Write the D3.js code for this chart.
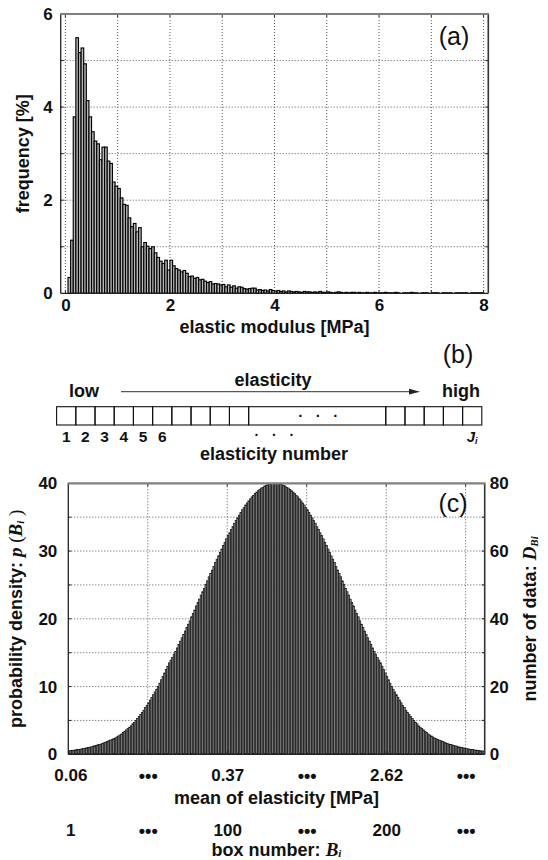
<!DOCTYPE html>
<html><head><meta charset="utf-8">
<script src="https://cdn.jsdelivr.net/npm/d3@7"></script>
<style>
html,body{margin:0;padding:0;background:#fff;}
svg{display:block;}
text{font-family:"Liberation Sans",Arial,Helvetica,sans-serif;fill:#111;}
</style></head><body>
<svg id="chart" width="548" height="860"></svg>
<script>
// ---------- DATA ----------
// (a) histogram of elastic modulus, bins of 0.05 MPa from 0 to 8
const histBinWidth = 0.05;
const histFrequency = [
 0.00,0.34,1.14,3.79,5.49,5.17,5.27,4.93,4.14,3.79,
 3.47,3.27,3.21,2.87,3.14,3.14,2.84,2.79,2.39,2.30,
 2.25,2.05,1.91,1.89,1.62,1.43,1.50,1.32,1.41,1.00,
 1.09,1.01,0.96,1.00,0.87,0.77,0.69,0.64,0.71,0.50,
 0.71,0.59,0.53,0.50,0.46,0.49,0.43,0.36,0.37,0.32,
 0.34,0.29,0.30,0.26,0.23,0.25,0.20,0.21,0.20,0.18,
 0.19,0.14,0.18,0.13,0.16,0.11,0.14,0.13,0.10,0.09,
 0.10,0.11,0.11,0.07,0.08,0.06,0.07,0.05,0.08,0.06,
 0.05,0.06,0.04,0.05,0.03,0.05,0.04,0.03,0.04,0.03,
 0.02,0.04,0.03,0.03,0.02,0.03,0.02,0.04,0.02,0.02,
 0.03,0.02,0.01,0.02,0.03,0.02,0.01,0.02,0.01,0.02,
 0.02,0.01,0.02,0.01,0.01,0.02,0.01,0.01,0.02,0.01,
 0.01,0.01,0.02,0.01,0.01,0.01,0.02,0.01,0.00,0.01,
 0.01,0.01,0.02,0.01,0.01,0.00,0.01,0.01,0.01,0.00,
 0.01,0.01,0.01,0.00,0.01,0.01,0.01,0.01,0.00,0.01,
 0.01,0.01,0.01,0.01,0.00,0.01,0.01,0.01,0.01,0.01
];
const histXTicks = [0, 2, 4, 6, 8];
const histYTicks = [0, 2, 4, 6];

// (b) elasticity boxes
const elasticityNumberLabels = ["1", "2", "3", "4", "5", "6"];

// (c) probability density per box (262 boxes)
const boxDensity = [
 0.5,0.55,0.6,0.6,0.65,0.7,0.7,0.75,0.8,0.85,
 0.9,0.95,1.0,1.05,1.1,1.2,1.25,1.3,1.4,1.45,
 1.5,1.6,1.7,1.8,1.9,2.0,2.1,2.2,2.3,2.4,
 2.55,2.7,2.85,3.0,3.2,3.4,3.6,3.8,4.0,4.2,
 4.5,4.7,5.0,5.3,5.6,5.9,6.2,6.5,6.9,7.2,
 7.6,8.0,8.4,8.8,9.2,9.6,10.0,10.5,11.0,11.5,
 12.0,12.5,13.0,13.5,13.9,14.3,14.8,15.2,15.7,16.2,
 16.7,17.2,17.7,18.2,18.7,19.2,19.7,20.3,20.8,21.3,
 21.9,22.4,22.9,23.5,24.0,24.5,25.1,25.6,26.2,26.7,
 27.2,27.7,28.3,28.8,29.3,29.8,30.3,30.8,31.3,31.8,
 32.3,32.7,33.2,33.6,34.1,34.5,34.9,35.3,35.7,36.1,
 36.4,36.8,37.1,37.4,37.7,38.0,38.2,38.5,38.7,38.9,
 39.1,39.3,39.4,39.6,39.7,39.8,39.9,39.9,40.0,40.0,
 40.0,40.0,39.9,39.9,39.8,39.7,39.6,39.4,39.3,39.1,
 38.9,38.7,38.5,38.2,38.0,37.7,37.4,37.1,36.8,36.4,
 36.1,35.7,35.3,34.9,34.5,34.1,33.6,33.2,32.7,32.3,
 31.8,31.3,30.8,30.3,29.8,29.3,28.8,28.3,27.7,27.2,
 26.7,26.2,25.6,25.1,24.5,24.0,23.5,22.9,22.4,21.9,
 21.3,20.8,20.3,19.7,19.2,18.7,18.2,17.7,17.2,16.7,
 16.2,15.7,15.2,14.8,14.3,13.9,13.5,13.0,12.5,12.0,
 11.5,11.0,10.5,10.0,9.6,9.2,8.8,8.4,8.0,7.6,
 7.2,6.9,6.5,6.2,5.9,5.6,5.3,5.0,4.7,4.5,
 4.2,4.0,3.8,3.6,3.4,3.2,3.0,2.85,2.7,2.55,
 2.4,2.3,2.2,2.1,2.0,1.9,1.8,1.7,1.6,1.5,
 1.45,1.4,1.3,1.25,1.2,1.1,1.05,1.0,0.95,0.9,
 0.85,0.8,0.75,0.7,0.7,0.65,0.6,0.6,0.55,0.5,
 0.5,0.45
];
const densityTicks = [0, 10, 20, 30, 40];
const countTicks = [0, 20, 40, 60, 80];
const boxTickPositions = [0, 50, 100, 150, 200, 250];
const ELLIPSIS = "\u2022\u2022\u2022";
const meanElasticityLabels = ["0.06", ELLIPSIS, "0.37", ELLIPSIS, "2.62", ELLIPSIS];
const boxNumberLabels = ["1", ELLIPSIS, "100", ELLIPSIS, "200", ELLIPSIS];

// ---------- DRAWING ----------
const svg = d3.select("#chart");
const TICK_FS = 17, TITLE_FS = 18;
const SERIF = '"Liberation Serif","Times New Roman",serif';

function drawFrame(g, l, r, t, b) {
  g.append("line").attr("x1", l).attr("x2", l).attr("y1", t).attr("y2", b).attr("stroke", "#222").attr("stroke-width", 1.3);
  g.append("line").attr("x1", r).attr("x2", r).attr("y1", t).attr("y2", b).attr("stroke", "#333").attr("stroke-width", 1.6);
  g.append("line").attr("x1", l).attr("x2", r).attr("y1", b).attr("y2", b).attr("stroke", "#222").attr("stroke-width", 1.3);
  g.append("line").attr("x1", l - 0.6).attr("x2", r + 0.8).attr("y1", t).attr("y2", t).attr("stroke", "#808080").attr("stroke-width", 2.2);
}
function gridLines(g, xs, ys, l, r, t, b) {
  g.selectAll(null).data(xs).join("line")
    .attr("x1", d => d).attr("x2", d => d).attr("y1", t).attr("y2", b)
    .attr("stroke", "#444").attr("stroke-width", 0.9).attr("stroke-dasharray", "1,2");
  g.selectAll(null).data(ys).join("line")
    .attr("x1", l).attr("x2", r).attr("y1", d => d).attr("y2", d => d)
    .attr("stroke", "#444").attr("stroke-width", 0.9).attr("stroke-dasharray", "1,2");
}
function innerTicks(g, xs, ys, l, r, t, b, len) {
  ys.forEach(y => {
    g.append("line").attr("x1", l).attr("x2", l + len).attr("y1", y).attr("y2", y).attr("stroke", "#222");
    g.append("line").attr("x1", r).attr("x2", r - len).attr("y1", y).attr("y2", y).attr("stroke", "#222");
  });
  xs.forEach(x => {
    g.append("line").attr("x1", x).attr("x2", x).attr("y1", t).attr("y2", t + len).attr("stroke", "#222");
    g.append("line").attr("x1", x).attr("x2", x).attr("y1", b).attr("y2", b - len).attr("stroke", "#222");
  });
}
function styleAxis(sel, fs) {
  sel.select(".domain").remove();
  sel.selectAll(".tick line").remove();
  sel.selectAll("text").attr("font-size", fs).attr("font-weight", "bold")
    .attr("font-family", '"Liberation Sans",Arial,sans-serif').attr("fill", "#111");
}

// ===== Panel (a) =====
const A = {l: 60.7, r: 488.3, t: 14, b: 293.3};
const xA = d3.scaleLinear().domain([-0.09, 8.09]).range([A.l, A.r]);
const yA = d3.scaleLinear().domain([0, 6]).range([A.b, A.t]);
const gA = svg.append("g");
const gridXA = d3.range(0, 9).map(v => xA(v));
const gridYA = d3.range(1, 6).map(v => yA(v));
gridLines(gA, gridXA, gridYA, A.l, A.r, A.t, A.b);

gA.append("g").selectAll("rect")
  .data(histFrequency.map((v, i) => ({x0: i * histBinWidth, x1: (i + 1) * histBinWidth, v})).filter(d => d.v > 0))
  .join("rect")
  .attr("x", d => xA(d.x0)).attr("width", d => xA(d.x1) - xA(d.x0))
  .attr("y", d => yA(d.v)).attr("height", d => yA(0) - yA(d.v))
  .attr("fill", "#b8b8b8").attr("stroke", "#000").attr("stroke-width", 1.15);

innerTicks(gA, gridXA, gridYA, A.l, A.r, A.t, A.b, 3);
drawFrame(gA, A.l, A.r, A.t, A.b);

gA.append("g").attr("transform", `translate(${A.l - 2},0)`)
  .call(d3.axisLeft(yA).tickValues(histYTicks).tickFormat(d3.format("d")).tickSize(0).tickPadding(6))
  .call(s => styleAxis(s, TICK_FS));
gA.append("g").attr("transform", `translate(0,${A.b + 2})`)
  .call(d3.axisBottom(xA).tickValues(histXTicks).tickFormat(d3.format("d")).tickSize(0).tickPadding(4))
  .call(s => styleAxis(s, TICK_FS));

gA.append("text").attr("x", (A.l + A.r) / 2).attr("y", 333).attr("text-anchor", "middle")
  .attr("font-size", TITLE_FS).attr("font-weight", "bold").text("elastic modulus [MPa]");
gA.append("text").attr("transform", `translate(29,${(A.t + A.b) / 2}) rotate(-90)`).attr("text-anchor", "middle")
  .attr("font-size", TITLE_FS).attr("font-weight", "bold").text("frequency [%]");
gA.append("text").attr("x", 454).attr("y", 45).attr("text-anchor", "middle")
  .attr("font-size", 25).text("(a)");

// ===== Panel (b) =====
const gB = svg.append("g");
const leftBoxes = 10, gapSlots = 7.14, rightBoxes = 5;
const xB = d3.scaleLinear().domain([0, leftBoxes + gapSlots + rightBoxes]).range([56.6, 481.8]);
const B = {t: 406.7, b: 425};
const slots = d3.range(leftBoxes).map(i => [i, i + 1])
  .concat([[leftBoxes, leftBoxes + gapSlots]])
  .concat(d3.range(rightBoxes).map(j => [leftBoxes + gapSlots + j, leftBoxes + gapSlots + j + 1]));
gB.selectAll("rect").data(slots).join("rect")
  .attr("x", d => xB(d[0])).attr("width", d => xB(d[1]) - xB(d[0]))
  .attr("y", B.t).attr("height", B.b - B.t)
  .attr("fill", "none").attr("stroke", "#111").attr("stroke-width", 1.1);

gB.selectAll("text.num").data(elasticityNumberLabels).join("text").attr("class", "num")
  .attr("x", (d, i) => xB(i + 0.5)).attr("y", 442).attr("text-anchor", "middle")
  .attr("font-size", 15.5).attr("font-weight", "bold").text(d => d);
[12.71, 13.62, 14.53].forEach(s => gB.append("text").attr("x", xB(s)).attr("y", 421).attr("text-anchor", "middle")
  .attr("font-size", 15).attr("font-weight", "bold").text("\u00B7"));
[10.43, 11.34, 12.25].forEach(s => gB.append("text").attr("x", xB(s)).attr("y", 440).attr("text-anchor", "middle")
  .attr("font-size", 14).attr("font-weight", "bold").text("\u00B7"));
const jt = gB.append("text").attr("x", xB(leftBoxes + gapSlots + rightBoxes - 0.5)).attr("y", 441.5).attr("text-anchor", "middle")
  .attr("font-family", SERIF).attr("font-style", "italic").attr("font-weight", "bold").attr("font-size", 15);
jt.append("tspan").text("J");
jt.append("tspan").attr("font-size", 9).attr("dy", 2).text("i");

gB.append("text").attr("x", 274).attr("y", 460).attr("text-anchor", "middle")
  .attr("font-size", TITLE_FS).attr("font-weight", "bold").text("elasticity number");
gB.append("text").attr("x", 273).attr("y", 386).attr("text-anchor", "middle")
  .attr("font-size", TITLE_FS).attr("font-weight", "bold").text("elasticity");
gB.append("text").attr("x", 84).attr("y", 397).attr("text-anchor", "middle")
  .attr("font-size", TITLE_FS).attr("font-weight", "bold").text("low");
gB.append("text").attr("x", 461).attr("y", 397).attr("text-anchor", "middle")
  .attr("font-size", TITLE_FS).attr("font-weight", "bold").text("high");
gB.append("text").attr("x", 458).attr("y", 363).attr("text-anchor", "middle")
  .attr("font-size", 25).text("(b)");
gB.append("line").attr("x1", 121).attr("x2", 412).attr("y1", 391.7).attr("y2", 391.7)
  .attr("stroke", "#333").attr("stroke-width", 1);
gB.append("path").attr("d", `M420,391.7 L409,388.8 L409,394.6 Z`).attr("fill", "#222");

// ===== Panel (c) =====
const C = {l: 68.3, r: 484.7, t: 483.3, b: 754.3};
const xC = d3.scaleLinear().domain([0, boxDensity.length]).range([C.l, C.r]);
const yC = d3.scaleLinear().domain([0, 40]).range([C.b, C.t]);
const yC2 = d3.scaleLinear().domain([0, 80]).range([C.b, C.t]);
const gC = svg.append("g");
const gridXC = boxTickPositions.filter(d => d > 0).map(d => xC(d));
const gridYC = d3.range(5, 40, 5).map(v => yC(v));
gridLines(gC, gridXC, gridYC, C.l, C.r, C.t, C.b);

gC.append("g").selectAll("rect").data(boxDensity).join("rect")
  .attr("x", (d, i) => xC(i)).attr("width", (d, i) => xC(i + 1) - xC(i))
  .attr("y", d => yC(d)).attr("height", d => yC(0) - yC(d))
  .attr("fill", "#8a8a8a").attr("stroke", "#111").attr("stroke-width", 0.7);

innerTicks(gC, gridXC, gridYC, C.l, C.r, C.t, C.b, 3);
drawFrame(gC, C.l, C.r, C.t, C.b);

gC.append("g").attr("transform", `translate(${C.l - 3},0)`)
  .call(d3.axisLeft(yC).tickValues(densityTicks).tickFormat(d3.format("d")).tickSize(0).tickPadding(8))
  .call(s => styleAxis(s, TICK_FS));
gC.append("g").attr("transform", `translate(${C.r + 1},0)`)
  .call(d3.axisRight(yC2).tickValues(countTicks).tickFormat(d3.format("d")).tickSize(0).tickPadding(4))
  .call(s => styleAxis(s, TICK_FS));
const ax1 = gC.append("g").attr("transform", `translate(0,${C.b + 11})`)
  .call(d3.axisBottom(xC).tickValues(boxTickPositions).tickFormat((d, i) => meanElasticityLabels[i]).tickSize(0).tickPadding(4))
  .call(s => styleAxis(s, TICK_FS));
const ax2 = gC.append("g").attr("transform", `translate(0,${C.b + 66})`)
  .call(d3.axisBottom(xC).tickValues(boxTickPositions).tickFormat((d, i) => boxNumberLabels[i]).tickSize(0).tickPadding(4))
  .call(s => styleAxis(s, TICK_FS));
[ax1, ax2].forEach(a => {
  a.selectAll(".tick").filter(d => d === 0).select("text").attr("dx", 2);
  a.selectAll(".tick text").filter(function () { return this.textContent === ELLIPSIS; })
    .attr("font-size", 18).attr("dy", "0.35em").attr("y", 10);
});

gC.append("text").attr("x", (C.l + C.r) / 2).attr("y", 804).attr("text-anchor", "middle")
  .attr("font-size", TITLE_FS).attr("font-weight", "bold").text("mean of elasticity [MPa]");
const bn = gC.append("text").attr("x", (C.l + C.r) / 2).attr("y", 856).attr("text-anchor", "middle")
  .attr("font-size", TITLE_FS).attr("font-weight", "bold");
bn.append("tspan").text("box number: ");
bn.append("tspan").attr("font-family", SERIF).attr("font-style", "italic").attr("font-size", 19).text("B");
bn.append("tspan").attr("font-family", SERIF).attr("font-style", "italic").attr("font-size", 11).attr("dy", 1).text("i");

const lt = gC.append("text").attr("transform", `translate(22,${(C.t + C.b) / 2}) rotate(-90)`).attr("text-anchor", "middle")
  .attr("font-size", TITLE_FS).attr("font-weight", "bold");
lt.append("tspan").text("probability density: ");
lt.append("tspan").attr("font-family", SERIF).attr("font-style", "italic").attr("font-size", 19).text("p");
lt.append("tspan").attr("font-family", SERIF).attr("font-size", 19).attr("font-weight", "normal").text(" (");
lt.append("tspan").attr("font-family", SERIF).attr("font-style", "italic").attr("font-size", 19).text("B");
lt.append("tspan").attr("font-family", SERIF).attr("font-style", "italic").attr("font-size", 11).attr("dy", 2).text("i");
lt.append("tspan").attr("font-family", SERIF).attr("font-size", 19).attr("font-weight", "normal").attr("dy", -2).text(" )");

const rt = gC.append("text").attr("transform", `translate(536,${(C.t + C.b) / 2}) rotate(-90)`).attr("text-anchor", "middle")
  .attr("font-size", TITLE_FS).attr("font-weight", "bold");
rt.append("tspan").text("number of data: ");
rt.append("tspan").attr("font-family", SERIF).attr("font-style", "italic").attr("font-size", 19).text("D");
rt.append("tspan").attr("font-family", SERIF).attr("font-style", "italic").attr("font-size", 11).attr("dy", 2).text("Bi");

gC.append("text").attr("x", 453).attr("y", 512).attr("text-anchor", "middle")
  .attr("font-size", 25).text("(c)");
</script>
</body></html>
